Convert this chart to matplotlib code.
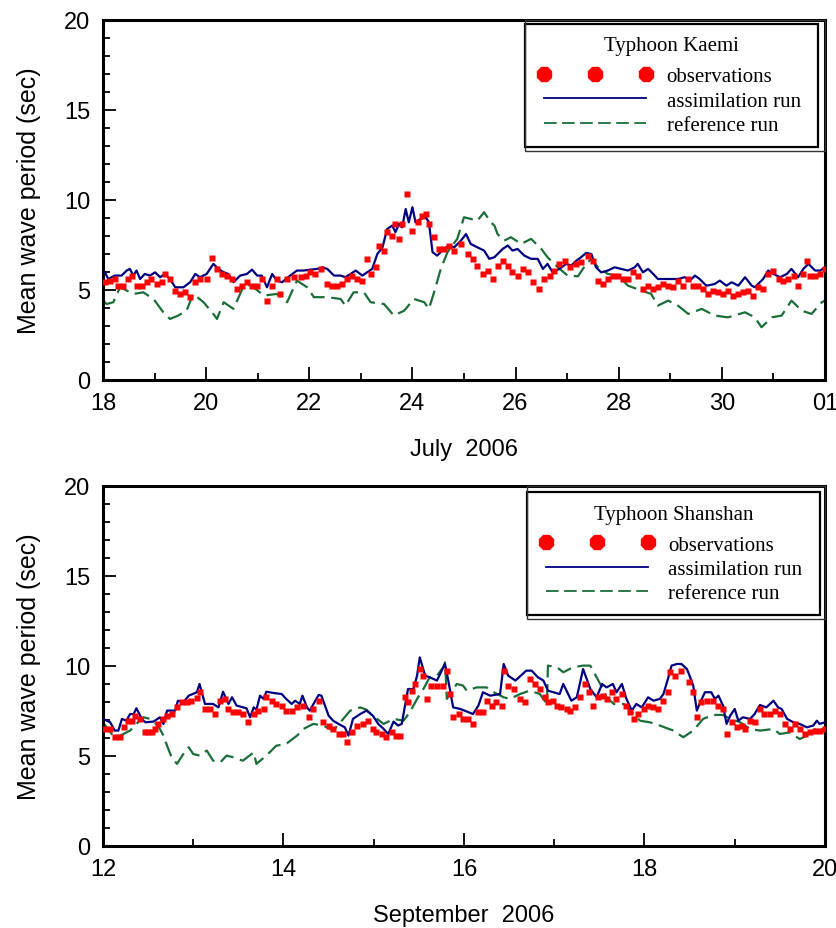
import matplotlib
matplotlib.use('Agg')
import matplotlib.pyplot as plt
from matplotlib.lines import Line2D
from matplotlib.patches import Rectangle
from matplotlib.ticker import MultipleLocator

plt.rcParams['font.family'] = ['Liberation Sans', 'DejaVu Sans']

# ---------------- Typhoon Kaemi, July 2006 (day 32 = 1 Aug) ----------------
kaemi_obs_day = [18.04, 18.13, 18.23, 18.30, 18.39, 18.49, 18.56, 18.65, 18.75, 18.85,
                 18.94, 19.04, 19.14, 19.20, 19.30, 19.40, 19.50, 19.59, 19.69, 19.79,
                 19.88, 20.01, 20.11, 20.21, 20.31, 20.40, 20.50, 20.60, 20.69, 20.79,
                 20.89, 20.99, 21.08, 21.18, 21.28, 21.37, 21.44, 21.57, 21.70, 21.83,
                 21.93, 22.02, 22.12, 22.22, 22.35, 22.44, 22.54, 22.64, 22.74, 22.83,
                 22.93, 23.03, 23.12, 23.19, 23.29, 23.35, 23.45, 23.51, 23.61, 23.67,
                 23.74, 23.80, 23.90, 24.00, 24.10, 24.19, 24.26, 24.32, 24.42, 24.52,
                 24.61, 24.71, 24.81, 24.94, 25.07, 25.17, 25.26, 25.36, 25.46, 25.56,
                 25.65, 25.75, 25.85, 25.94, 26.04, 26.14, 26.24, 26.33, 26.46, 26.56,
                 26.66, 26.75, 26.85, 26.95, 27.05, 27.18, 27.27, 27.40, 27.50, 27.60,
                 27.69, 27.79, 27.89, 27.99, 28.08, 28.18, 28.28, 28.37, 28.47, 28.57,
                 28.67, 28.76, 28.86, 28.96, 29.05, 29.15, 29.25, 29.35, 29.44, 29.54,
                 29.64, 29.74, 29.83, 29.93, 30.03, 30.12, 30.22, 30.32, 30.42, 30.51,
                 30.61, 30.71, 30.80, 30.90, 31.00, 31.10, 31.19, 31.29, 31.39, 31.48,
                 31.58, 31.65, 31.71, 31.81, 31.91, 32.00]
kaemi_obs = [5.43, 5.52, 5.61, 5.24, 5.24, 5.61, 5.80, 5.24, 5.24, 5.43,
             5.61, 5.34, 5.43, 5.89, 5.61, 4.97, 4.78, 4.87, 4.60, 5.43,
             5.61, 5.61, 6.78, 6.17, 5.89, 5.80, 5.61, 5.06, 5.24, 5.43,
             5.24, 5.24, 5.61, 4.41, 5.24, 5.61, 4.78, 5.61, 5.71, 5.71,
             5.80, 5.98, 5.89, 6.17, 5.34, 5.24, 5.24, 5.34, 5.61, 5.80,
             5.61, 5.52, 6.73, 5.89, 6.26, 7.47, 7.19, 8.21, 8.02, 8.67,
             7.84, 8.67, 10.34, 8.30, 8.76, 9.13, 9.23, 8.67, 7.93, 7.28,
             7.28, 7.47, 7.19, 7.56, 7.00, 6.73, 6.36, 5.89, 6.08, 5.61,
             6.36, 6.63, 6.36, 5.98, 5.80, 6.17, 5.98, 5.43, 5.06, 5.61,
             5.80, 6.08, 6.45, 6.63, 6.26, 6.45, 6.54, 6.91, 6.63, 5.52,
             5.34, 5.61, 5.80, 5.80, 5.61, 5.61, 5.98, 5.80, 5.06, 5.24,
             5.06, 5.15, 5.34, 5.24, 5.15, 5.52, 5.24, 5.61, 5.24, 5.24,
             5.06, 4.78, 4.97, 4.87, 4.78, 4.97, 4.69, 4.78, 4.87, 4.97,
             4.69, 5.15, 5.06, 5.89, 6.08, 5.61, 5.52, 5.61, 5.80, 5.24,
             5.89, 6.63, 5.80, 5.80, 5.89, 6.17]

kaemi_asm_day = [18.04, 18.10, 18.23, 18.36, 18.46, 18.52, 18.59, 18.65, 18.72, 18.81,
                 18.91, 19.01, 19.11, 19.20, 19.30, 19.40, 19.56, 19.69, 19.79, 19.88,
                 20.01, 20.14, 20.24, 20.34, 20.43, 20.53, 20.66, 20.79, 20.89, 20.99,
                 21.08, 21.18, 21.28, 21.37, 21.47, 21.63, 21.76, 21.89, 22.02, 22.15,
                 22.25, 22.35, 22.48, 22.61, 22.70, 22.80, 22.90, 23.03, 23.12, 23.22,
                 23.32, 23.42, 23.51, 23.61, 23.67, 23.74, 23.80, 23.87, 23.93, 24.00,
                 24.06, 24.16, 24.26, 24.32, 24.39, 24.48, 24.61, 24.71, 24.81, 24.94,
                 25.04, 25.13, 25.26, 25.39, 25.49, 25.59, 25.75, 25.85, 25.94, 26.04,
                 26.17, 26.30, 26.43, 26.53, 26.62, 26.72, 26.85, 26.98, 27.08, 27.18,
                 27.27, 27.37, 27.47, 27.56, 27.66, 27.79, 27.92, 28.05, 28.18, 28.31,
                 28.37, 28.47, 28.57, 28.67, 28.76, 28.96, 29.15, 29.28, 29.38, 29.48,
                 29.57, 29.70, 29.86, 29.96, 30.09, 30.19, 30.32, 30.45, 30.58, 30.64,
                 30.80, 30.90, 31.00, 31.13, 31.26, 31.35, 31.48, 31.58, 31.68, 31.81,
                 31.91, 32.00]
kaemi_asm = [5.98, 5.61, 5.80, 5.80, 6.08, 6.17, 5.80, 6.08, 5.61, 5.89,
             5.80, 5.98, 5.71, 5.89, 5.61, 5.15, 5.15, 5.43, 5.89, 5.71,
             5.89, 6.45, 6.17, 5.98, 5.89, 5.43, 5.80, 5.89, 6.13, 5.80,
             5.80, 5.15, 5.89, 5.52, 5.43, 5.80, 6.08, 6.08, 6.13, 6.17,
             6.26, 6.17, 5.80, 5.80, 5.71, 5.89, 6.08, 5.80, 5.98, 6.17,
             7.00, 7.37, 8.39, 8.58, 8.21, 8.67, 8.48, 9.50, 8.76, 9.60,
             8.76, 8.95, 9.04, 8.76, 7.10, 6.91, 7.28, 7.47, 7.37, 7.74,
             8.11, 7.56, 7.37, 7.19, 6.73, 6.82, 7.28, 7.47, 7.19, 7.28,
             6.91, 6.73, 6.73, 6.17, 6.45, 5.98, 6.17, 6.45, 6.36, 6.63,
             6.82, 7.06, 7.00, 6.26, 5.98, 6.08, 6.26, 6.17, 6.08, 6.26,
             6.45, 5.98, 6.17, 5.89, 5.61, 5.61, 5.61, 5.71, 5.52, 5.80,
             5.61, 5.24, 5.33, 5.52, 5.24, 5.43, 5.24, 5.71, 5.24, 5.15,
             5.61, 6.08, 5.89, 5.71, 5.89, 6.17, 5.71, 6.17, 6.45, 6.08,
             6.08, 6.26]

kaemi_ref_day = [18.00, 18.07, 18.20, 18.33, 18.46, 18.59, 18.78, 18.98, 19.17, 19.30,
                 19.46, 19.62, 19.75, 19.95, 20.14, 20.21, 20.34, 20.53, 20.73, 20.86,
                 21.12, 21.37, 21.57, 21.76, 21.96, 22.09, 22.35, 22.61, 22.70, 22.86,
                 23.06, 23.19, 23.45, 23.64, 23.84, 24.03, 24.23, 24.32, 24.42, 24.55,
                 24.68, 24.87, 25.00, 25.13, 25.26, 25.39, 25.52, 25.59, 25.65, 25.78,
                 25.91, 26.11, 26.30, 26.50, 26.62, 26.82, 27.01, 27.21, 27.37, 27.47,
                 27.60, 27.79, 27.99, 28.18, 28.44, 28.63, 28.76, 28.96, 29.15, 29.35,
                 29.61, 29.86, 30.12, 30.45, 30.64, 30.77, 30.97, 31.16, 31.35, 31.55,
                 31.74, 31.94, 32.00]
kaemi_ref = [4.41, 4.22, 4.32, 5.15, 4.97, 4.78, 4.87, 4.50, 3.76, 3.39,
             3.58, 3.85, 4.78, 4.32, 3.67, 3.39, 4.32, 3.95, 5.24, 5.28,
             4.69, 4.78, 4.32, 5.52, 5.15, 4.60, 4.60, 4.50, 4.13, 4.87,
             4.87, 4.32, 4.22, 3.58, 3.85, 4.50, 4.32, 3.95, 4.87, 6.17,
             7.10, 7.84, 9.04, 8.95, 8.85, 9.32, 8.76, 8.58, 8.11, 7.74,
             7.93, 7.56, 7.84, 7.28, 6.82, 6.26, 5.80, 5.76, 6.45, 6.73,
             6.26, 5.89, 5.80, 5.24, 4.97, 4.78, 4.13, 4.41, 4.13, 3.67,
             3.95, 3.58, 3.48, 3.76, 3.48, 2.93, 3.48, 3.58, 4.41, 3.85,
             3.67, 4.32, 4.41]

kaemi_ticks = [18, 20, 22, 24, 26, 28, 30, 32]
kaemi_ticklabels = ['18', '20', '22', '24', '26', '28', '30', '01']

# ---------------- Typhoon Shanshan, September 2006 ----------------
shanshan_obs_day = [12.02, 12.08, 12.13, 12.19, 12.23, 12.28, 12.32, 12.35, 12.41, 12.47,
                    12.50, 12.54, 12.58, 12.61, 12.67, 12.71, 12.76, 12.82, 12.87, 12.93,
                    12.98, 13.04, 13.07, 13.13, 13.19, 13.24, 13.30, 13.35, 13.39, 13.44,
                    13.50, 13.55, 13.61, 13.67, 13.72, 13.78, 13.81, 13.87, 13.92, 13.98,
                    14.03, 14.09, 14.15, 14.22, 14.28, 14.33, 14.39, 14.44, 14.50, 14.55,
                    14.61, 14.66, 14.70, 14.76, 14.81, 14.88, 14.94, 14.99, 15.03, 15.09,
                    15.14, 15.20, 15.25, 15.29, 15.35, 15.38, 15.42, 15.46, 15.51, 15.55,
                    15.59, 15.64, 15.70, 15.77, 15.81, 15.84, 15.88, 15.94, 15.99, 16.05,
                    16.10, 16.16, 16.21, 16.25, 16.31, 16.36, 16.42, 16.44, 16.49, 16.55,
                    16.62, 16.68, 16.73, 16.79, 16.84, 16.90, 16.93, 16.99, 17.03, 17.08,
                    17.14, 17.17, 17.23, 17.29, 17.34, 17.38, 17.43, 17.49, 17.54, 17.58,
                    17.64, 17.69, 17.75, 17.80, 17.84, 17.88, 17.93, 17.99, 18.04, 18.10,
                    18.15, 18.21, 18.26, 18.28, 18.34, 18.41, 18.49, 18.54, 18.58, 18.63,
                    18.69, 18.76, 18.82, 18.87, 18.91, 18.97, 19.02, 19.08, 19.11, 19.17,
                    19.22, 19.28, 19.33, 19.39, 19.45, 19.50, 19.56, 19.61, 19.67, 19.72,
                    19.78, 19.83, 19.89, 19.94, 20.00]
shanshan_obs = [6.50, 6.50, 6.04, 6.04, 6.59, 6.96, 6.96, 7.24, 7.06, 6.31,
                6.31, 6.31, 6.50, 6.78, 7.06, 7.24, 7.33, 7.70, 7.98, 7.98,
                8.07, 8.20, 8.54, 7.61, 7.61, 7.33, 8.07, 8.17, 7.61, 7.43,
                7.43, 7.33, 6.87, 7.33, 7.52, 7.61, 8.26, 8.07, 7.89, 7.80,
                7.52, 7.52, 7.70, 7.80, 7.15, 7.61, 8.07, 6.87, 6.69, 6.50,
                6.22, 6.22, 5.76, 6.31, 6.69, 6.78, 6.96, 6.50, 6.31, 6.22,
                6.04, 6.31, 6.13, 6.13, 8.26, 7.98, 8.63, 9.00, 9.83, 9.46,
                8.17, 8.91, 8.91, 8.91, 9.74, 8.44, 7.15, 7.33, 7.06, 7.06,
                6.78, 7.43, 7.43, 8.07, 7.80, 7.98, 7.80, 9.74, 8.91, 8.72,
                8.17, 7.98, 9.28, 9.00, 8.72, 8.26, 7.98, 8.07, 7.80, 7.70,
                7.61, 7.52, 7.70, 8.26, 9.00, 8.54, 7.80, 8.26, 8.35, 8.17,
                8.54, 8.17, 8.44, 7.80, 7.43, 7.06, 7.33, 7.61, 7.80, 7.70,
                7.61, 8.07, 8.54, 9.65, 9.46, 9.74, 9.09, 8.54, 7.15, 7.98,
                8.07, 8.07, 7.80, 7.61, 6.22, 6.87, 6.59, 6.69, 6.50, 6.96,
                6.87, 7.61, 7.33, 7.33, 7.52, 7.33, 6.78, 6.50, 6.78, 6.50,
                6.22, 6.31, 6.41, 6.41, 6.50]

shanshan_asm_day = [12.00, 12.08, 12.13, 12.17, 12.21, 12.26, 12.30, 12.34, 12.37, 12.43,
                    12.47, 12.56, 12.63, 12.67, 12.71, 12.76, 12.80, 12.83, 12.89, 12.95,
                    13.04, 13.07, 13.13, 13.22, 13.28, 13.33, 13.39, 13.43, 13.48, 13.59,
                    13.63, 13.67, 13.70, 13.74, 13.78, 13.81, 13.89, 13.98, 14.03, 14.09,
                    14.13, 14.18, 14.21, 14.26, 14.29, 14.39, 14.42, 14.50, 14.55, 14.61,
                    14.68, 14.72, 14.77, 14.85, 14.92, 14.99, 15.05, 15.11, 15.16, 15.22,
                    15.27, 15.31, 15.38, 15.44, 15.48, 15.51, 15.57, 15.62, 15.70, 15.79,
                    15.83, 15.88, 15.96, 16.10, 16.16, 16.21, 16.29, 16.40, 16.44, 16.49,
                    16.57, 16.69, 16.75, 16.82, 16.88, 16.93, 17.06, 17.10, 17.19, 17.25,
                    17.32, 17.40, 17.47, 17.53, 17.58, 17.65, 17.69, 17.75, 17.80, 17.86,
                    17.91, 17.97, 18.04, 18.10, 18.17, 18.21, 18.26, 18.30, 18.36, 18.41,
                    18.47, 18.50, 18.54, 18.58, 18.61, 18.67, 18.74, 18.78, 18.82, 18.87,
                    18.91, 18.95, 19.00, 19.04, 19.09, 19.17, 19.22, 19.28, 19.35, 19.43,
                    19.48, 19.52, 19.58, 19.65, 19.72, 19.80, 19.87, 19.91, 19.94, 20.00]
shanshan_asm = [7.06, 6.87, 6.41, 6.41, 7.06, 6.96, 7.33, 7.33, 7.65, 7.06,
                6.87, 6.91, 7.15, 6.78, 7.52, 7.52, 7.52, 8.07, 7.98, 8.35,
                8.54, 9.00, 7.89, 7.89, 7.70, 8.57, 7.89, 8.26, 7.80, 7.65,
                7.15, 7.70, 7.57, 8.35, 8.17, 8.57, 8.50, 8.44, 8.17, 7.89,
                8.07, 7.89, 8.35, 7.70, 7.52, 8.39, 8.35, 7.24, 6.96, 6.78,
                6.59, 6.13, 7.06, 7.33, 7.52, 7.24, 6.78, 6.50, 6.22, 6.91,
                6.69, 6.78, 8.72, 8.72, 9.46, 10.48, 9.46, 9.37, 9.19, 10.11,
                9.09, 7.70, 7.61, 7.33, 7.80, 8.54, 8.35, 8.44, 10.11, 9.46,
                9.19, 9.74, 9.74, 9.37, 9.19, 8.63, 8.44, 9.00, 8.07, 8.26,
                9.83, 8.72, 8.26, 9.00, 8.81, 9.00, 8.54, 9.00, 8.17, 7.52,
                7.89, 7.70, 8.26, 8.07, 8.17, 8.44, 9.28, 10.02, 10.11, 10.11,
                9.83, 9.46, 8.91, 7.52, 7.89, 8.54, 8.54, 8.17, 8.35, 7.80,
                6.78, 7.24, 7.61, 6.96, 7.15, 7.06, 7.33, 7.83, 7.70, 8.07,
                7.70, 7.61, 7.06, 6.87, 6.78, 6.59, 6.69, 6.96, 6.78, 6.87]

shanshan_ref_day = [12.00, 12.11, 12.19, 12.30, 12.37, 12.45, 12.52, 12.61, 12.67, 12.71,
                    12.76, 12.82, 12.89, 12.95, 13.00, 13.07, 13.15, 13.22, 13.30, 13.37,
                    13.44, 13.55, 13.67, 13.70, 13.81, 13.92, 14.03, 14.15, 14.22, 14.33,
                    14.44, 14.55, 14.63, 14.74, 14.85, 14.92, 14.99, 15.11, 15.22, 15.33,
                    15.40, 15.48, 15.55, 15.62, 15.70, 15.77, 15.79, 15.81, 15.86, 15.92,
                    15.99, 16.03, 16.14, 16.25, 16.33, 16.44, 16.51, 16.62, 16.73, 16.84,
                    16.92, 16.93, 17.03, 17.10, 17.21, 17.32, 17.40, 17.47, 17.53, 17.58,
                    17.66, 17.77, 17.88, 17.95, 18.06, 18.17, 18.32, 18.43, 18.54, 18.65,
                    18.76, 18.87, 18.95, 19.06, 19.17, 19.28, 19.43, 19.50, 19.61, 19.72,
                    19.80, 19.87, 19.94, 20.00]
shanshan_ref = [6.87, 6.13, 6.13, 6.41, 6.78, 7.15, 7.06, 6.69, 6.13, 5.57,
                4.93, 4.56, 5.11, 5.48, 5.11, 5.02, 5.30, 4.74, 4.65, 5.02,
                4.93, 4.74, 5.20, 4.56, 5.02, 5.57, 5.67, 6.13, 6.50, 6.78,
                6.69, 6.41, 6.87, 7.52, 7.70, 7.57, 7.24, 6.78, 7.06, 6.96,
                7.43, 8.17, 8.72, 9.37, 9.46, 9.93, 10.20, 8.17, 8.54, 9.00,
                8.91, 8.63, 8.81, 8.81, 8.54, 8.26, 8.17, 8.44, 8.63, 8.44,
                7.89, 10.02, 9.93, 9.65, 9.93, 10.02, 10.02, 9.37, 8.81, 8.26,
                7.89, 7.89, 7.33, 6.96, 6.87, 6.69, 6.41, 6.04, 6.41, 7.06,
                7.28, 7.28, 7.06, 6.87, 6.50, 6.41, 6.50, 6.22, 6.31, 5.94,
                6.13, 6.50, 6.41, 6.59]

shanshan_ticks = [12, 14, 16, 18, 20]
shanshan_ticklabels = ['12', '14', '16', '18', '20']

OBS_RED = '#ff0000'
ASM_NAVY = '#000080'
REF_GREEN = '#1b6e3a'
DASH = (0, (7, 3))
LEG_SIZE = 15


def draw_panel(ax, obs_d, obs_v, asm_d, asm_v, ref_d, ref_v,
               ticks, ticklabels, xlabel, title, leg_box):
    ax.plot(ref_d, ref_v, color=REF_GREEN, lw=1.6, linestyle=DASH, zorder=2)
    ax.plot(asm_d, asm_v, color=ASM_NAVY, lw=1.6, zorder=3)
    ax.plot(obs_d, obs_v, linestyle='none', marker='s', ms=4.8,
            mfc=OBS_RED, mec='none', zorder=4)

    ax.set_xlim(ticks[0], ticks[-1])
    ax.set_ylim(0, 20)
    ax.set_xticks(ticks)
    ax.set_xticklabels(ticklabels)
    ax.xaxis.set_minor_locator(MultipleLocator(1))
    ax.set_yticks([0, 5, 10, 15, 20])
    ax.yaxis.set_minor_locator(MultipleLocator(1))
    ax.tick_params(which='both', direction='in', top=False, right=False,
                   width=1.3, labelsize=17)
    ax.tick_params(which='major', length=9.5)
    ax.tick_params(which='minor', length=5)
    ax.tick_params(axis='x', pad=9)
    ax.tick_params(axis='y', pad=9)
    for sp in ax.spines.values():
        sp.set_linewidth(2.2)

    ax.set_ylabel('Mean wave period (sec)', fontsize=18, labelpad=17)
    ax.set_xlabel(xlabel, fontsize=17, labelpad=17)

    handles = [
        Line2D([], [], linestyle='none', marker='8', ms=11, mfc=OBS_RED, mec=OBS_RED),
        Line2D([], [], color=ASM_NAVY, lw=1.3),
        Line2D([], [], color=REF_GREEN, lw=1.3, linestyle=DASH),
    ]
    leg = ax.legend(handles, ['observations', 'assimilation run', 'reference run'],
                    loc='upper left', bbox_to_anchor=leg_box, mode='expand',
                    borderaxespad=0, numpoints=3, handlelength=5.5,
                    handletextpad=0.7, labelspacing=0.22, borderpad=0.6,
                    fancybox=False, frameon=True, framealpha=1, edgecolor='black',
                    title=title,
                    prop={'family': 'Liberation Serif', 'size': LEG_SIZE},
                    title_fontproperties={'family': 'Liberation Serif', 'size': LEG_SIZE})
    # a little more room between the title and the entries
    leg._legend_box.sep = 0.55 * LEG_SIZE
    leg.get_frame().set_linewidth(1.6)
    return leg


fig = plt.figure(figsize=(8.36, 9.29), dpi=100)
ax1 = fig.add_axes([0.1232, 0.5899, 0.8636, 0.3875])
ax2 = fig.add_axes([0.1232, 0.0883, 0.8636, 0.3875])

leg1 = draw_panel(ax1, kaemi_obs_day, kaemi_obs, kaemi_asm_day, kaemi_asm,
                  kaemi_ref_day, kaemi_ref, kaemi_ticks, kaemi_ticklabels,
                  'July  2006', 'Typhoon Kaemi', (0.5845, 0.0, 0.4055, 0.989))
leg2 = draw_panel(ax2, shanshan_obs_day, shanshan_obs, shanshan_asm_day, shanshan_asm,
                  shanshan_ref_day, shanshan_ref, shanshan_ticks, shanshan_ticklabels,
                  'September  2006', 'Typhoon Shanshan', (0.587, 0.0, 0.406, 0.983))

# second (outer) frame line around each legend, as in the original figure
fig.canvas.draw()
for ax, leg in [(ax1, leg1), (ax2, leg2)]:
    bb = leg.get_window_extent().transformed(ax.transAxes.inverted())
    gap = 3.5 / 360
    ax.add_patch(Rectangle((bb.x0, bb.y0 - gap), 1 - bb.x0, 1 - bb.y0 + gap,
                           transform=ax.transAxes, fill=False, lw=1.0,
                           edgecolor='#333333', zorder=6, clip_on=False))

fig.savefig('out.png', dpi=100)
